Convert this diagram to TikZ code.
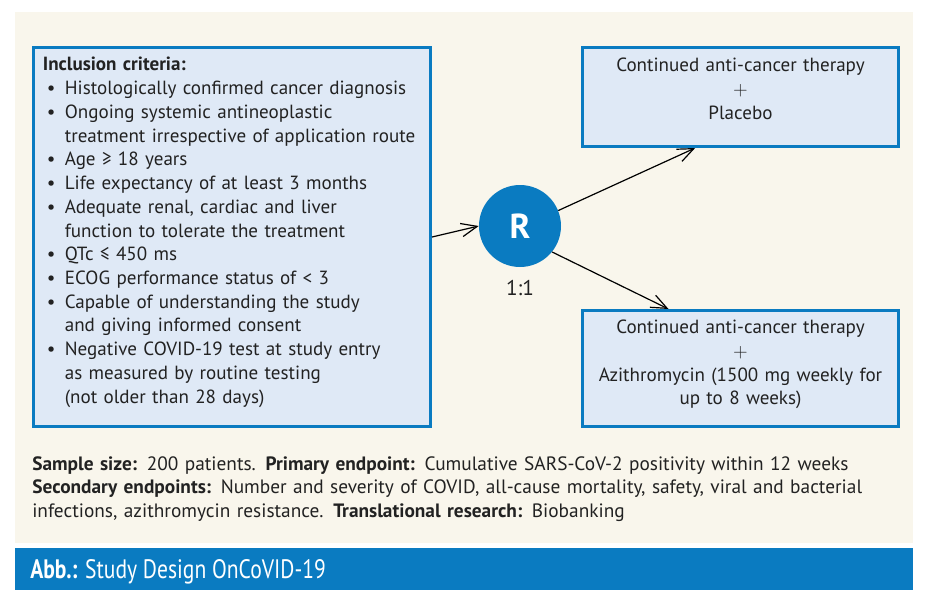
\documentclass[tikz,border=0pt]{standalone}
\usepackage{fontspec}
\setmainfont{PT Sans}
\newfontfamily\narrowfont[FakeStretch=0.81]{PT Sans}
\usetikzlibrary{arrows.meta, positioning}
\usepackage{xcolor}
\definecolor{oncoblue}{HTML}{0A7BC1}
\definecolor{armfill}{HTML}{DFE9F6}
\definecolor{paper}{HTML}{F9F6EC}
\definecolor{ink}{HTML}{222222}
\newcommand{\critem}[1]{\par\noindent\hangindent=16.5pt\hangafter=1\makebox[16.5pt][l]{\hspace{3pt}\textbullet}#1\par}

\begin{document}
\begin{tikzpicture}[x=0.75pt, y=-0.75pt,
    every node/.style={text=ink, font=\fontsize{14.3}{17.8}\selectfont},
    armbox/.style={draw=oncoblue, fill=armfill, line width=2.25pt, align=center,
        minimum width=237pt, text width=237pt, inner sep=0pt},
    arrow/.style={-{Straight Barb[length=12pt, width=10pt]}, line width=0.9pt, black}]
    \useasboundingbox (0,0) rectangle (926,604);
    \fill[white] (0,0) rectangle (926,604);
    \fill[paper] (15,12) rectangle (913,543);
    \fill[oncoblue] (15,548) rectangle (913,590);

    % inclusion criteria
    \node[draw=oncoblue, fill=armfill, line width=2.25pt, minimum width=297.75pt,
        minimum height=284.25pt, text width=283.75pt, inner xsep=7pt, align=left]
        (crit) at (232,237) {%
        \textbf{Inclusion criteria:}
        \critem{Histologically confirmed cancer diagnosis}
        \critem{Ongoing systemic antineoplastic\newline treatment irrespective of application route}
        \critem{Age ≥ 18 years}
        \critem{Life expectancy of at least 3 months}
        \critem{Adequate renal, cardiac and liver\newline function to tolerate the treatment}
        \critem{QTc ≤ 450 ms}
        \critem{ECOG performance status of < 3}
        \critem{Capable of understanding the study\newline and giving informed consent}
        \critem{Negative COVID-19 test at study entry\newline as measured by routine testing\newline (not older than 28 days)}
        \vspace*{7pt}};

    % randomisation
    \node[circle, fill=oncoblue, minimum size=61.5pt, inner sep=0pt,
        font=\fontsize{26}{26}\selectfont\bfseries, text=white] (rnd) at (520,226) {R};
    \node[below=6pt of rnd, font=\fontsize{16}{16}\selectfont] (ratio) {1:1};

    % study arms
    \node[armbox, minimum height=74.25pt] (placebo) at (740.5,97)
        {Continued anti-cancer therapy\\$+$\\Placebo\par\vspace*{12pt}};
    \node[armbox, minimum height=87pt] (azi) at (740.5,368.5)
        {Continued anti-cancer therapy\\$+$\\Azithromycin (1500 mg weekly for\\up to 8 weeks)\par\vspace*{6pt}};

    \draw[arrow] (crit.east) -- (rnd.west);
    \draw[arrow] (rnd.22) -- ([xshift=-34pt]placebo.south);
    \draw[arrow] (rnd.-39) -- ([xshift=-54pt]azi.north);

    % endpoints
    \node[anchor=north west, inner sep=0pt, text width=680pt, align=left,
        font=\fontsize{14.5}{17.6}\selectfont] (endpoints) at (32,456)
        {\textbf{Sample size:} 200 patients. \textbf{Primary endpoint:} Cumulative SARS-CoV-2 positivity within 12 weeks\\
        \textbf{Secondary endpoints:} Number and severity of COVID, all-cause mortality, safety, viral and bacterial\\
        infections, azithromycin resistance. \textbf{Translational research:} Biobanking};

    % caption
    \node[anchor=base west, inner sep=0pt, text=white,
        font=\narrowfont\fontsize{20}{20}\selectfont] (caption) at (30,578)
        {\textbf{Abb.:} Study Design OnCoVID-19};
\end{tikzpicture}
\end{document}
